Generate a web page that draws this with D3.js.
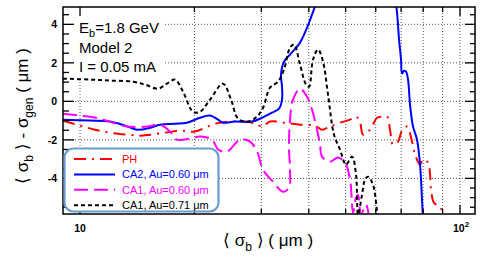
<!DOCTYPE html>
<html>
<head>
<meta charset="utf-8">
<script src="https://cdn.jsdelivr.net/npm/d3@7"></script>
<style>
  body { margin: 0; background: #fff; }
  svg { display: block; font-family: 'Liberation Sans', Arial, sans-serif; }
</style>
</head>
<body>
<div id="chart"></div>
<script>
// <sigma_b> (um) on x, <sigma_b> - sigma_gen (um) on y
const phX = [9.02, 10, 10.95, 11.99, 13.3, 14.38, 15.29, 16.74, 18.33, 20.07, 21.33, 22.66, 24.81, 27.18, 28.88, 30.13, 31.62, 34.63, 37.93, 41.53, 43.33, 45.49, 48.32, 51.35, 53.25, 54.56, 55.56, 57.27, 58.66, 60.47, 62.71, 64.25, 65.43, 66.64, 68.69, 70.37, 72.54, 74.77, 76.14, 78.48, 79.91, 82.38, 83.39, 83.9, 85.43, 88.62, 90.26]
const phY = [-1.0, -1.26, -1.47, -1.63, -1.73, -1.78, -1.73, -1.63, -1.52, -1.57, -1.37, -1.16, -1.05, -1.05, -1.16, -1.31, -1.05, -1.11, -1.21, -1.26, -1.47, -1.31, -1.11, -0.95, -0.79, -1.11, -1.73, -1.57, -1.31, -0.85, -0.79, -0.79, -1.47, -2.25, -2.09, -1.52, -1.31, -2.09, -2.76, -3.28, -3.02, -3.18, -3.8, -4.59, -5.27, -5.47, -5.88]

const ca2X = [9.02, 10.62, 11.99, 13.14, 14.13, 15.29, 16.24, 17.78, 19.12, 20.7, 21.99, 23.08, 23.78, 25.58, 28.36, 30.13, 32.01, 33.39, 34.01, 34.01, 33.8, 34.42, 35.7, 37.93, 39.57, 40.78, 41.78, 42.81, 66.24, 67.87, 69.11, 69.94, 70.37, 71.23, 72.1, 72.98, 73.87, 75.22, 77.06, 78.48, 79.43, 79.91]
const ca2Y = [-0.95, -1.0, -1.05, -1.26, -1.47, -1.37, -1.21, -1.16, -1.11, -0.85, -0.74, -0.95, -1.11, -1.05, -1.05, -0.85, -0.59, -0.38, 0.09, 0.76, 1.39, 2.06, 2.43, 3.05, 3.83, 4.5, 5.08, 5.8, 5.8, 5.02, 3.21, 2.17, 1.44, 1.59, 1.54, 1.13, -0.17, -1.31, -1.99, -3.28, -5.11, -6.15]

const ca1aX = [9.02, 10, 11.29, 12.22, 13.3, 15.01, 16.24, 17.25, 18.0, 19.83, 20.7, 22.26, 23.08, 24.37, 26.37, 28.02, 29.24, 30.32, 32.2, 34.21, 35.48, 35.7, 35.48, 35.7, 36.35, 37.93, 39.57, 40.78, 42.04, 42.81, 43.33, 45.49, 47.74, 49.81, 51.35, 52.3, 53.25, 53.9, 54.89, 56.57, 57.61]
const ca1aY = [-0.64, -0.74, -0.9, -1.11, -1.31, -1.31, -1.21, -1.57, -1.99, -1.89, -1.83, -1.99, -2.5, -2.61, -1.99, -2.09, -2.61, -3.55, -4.17, -4.69, -4.48, -3.55, -2.5, -0.95, 0.09, 0.66, 0.24, -0.43, -1.47, -2.25, -2.87, -3.13, -2.92, -3.18, -4.06, -5.78, -5.0, -4.85, -5.88, -5.37, -6.04]

const ca1bX = [9.02, 10.62, 11.99, 13.79, 14.83, 16.04, 16.94, 17.78, 18.67, 19.83, 20.7, 21.99, 23.78, 24.97, 26.05, 27.68, 29.24, 30.32, 31.62, 33.19, 34.42, 35.7, 36.58, 37.93, 39.33, 40.05, 41.03, 42.3, 43.6, 44.94, 46.6, 48.32, 50.12, 51.98, 53.25, 53.9, 55.22, 56.23, 57.27, 59.02, 60.47, 60.84]
const ca1bY = [1.18, 1.13, 1.08, 1.02, 0.87, 0.66, 0.92, 1.13, 0.5, -0.54, -0.54, 0.09, 0.92, 0.09, -0.9, -1.05, -0.79, -0.33, 0.71, 1.02, 1.65, 2.79, 2.95, 1.91, 0.87, 0.76, 2.17, 2.69, 2.06, 0.35, -1.73, -2.5, -3.28, -2.87, -3.8, -5.88, -4.85, -4.06, -3.91, -4.33, -5.73, -6.25]

const seriesNames = ['PH', 'CA2, Au=0.60 μm', 'CA1, Au=0.60 μm', 'CA1, Au=0.71 μm']
const yMajor = [-4, -2, 0, 2, 4]
const xMajor = [10, 100]
const xMinor = [20, 30, 40, 50, 60, 70, 80, 90]
const infoLines = ['Model 2', 'I = 0.05 mA']

const W = 485
const H = 259
const margin = { top: 7, right: 10, bottom: 45, left: 63 }

const styles = [
  { color: '#ff0000', dash: '12,6,2,6' },
  { color: '#0000ff', dash: null },
  { color: '#ff00ff', dash: '14,6' },
  { color: '#000000', dash: '4,3' }
]

const series = [
  phX.map((x, i) => [x, phY[i]]),
  ca2X.map((x, i) => [x, ca2Y[i]]),
  ca1aX.map((x, i) => [x, ca1aY[i]]),
  ca1bX.map((x, i) => [x, ca1bY[i]])
]

const svg = d3.select('#chart')
  .append('svg')
  .attr('width', W)
  .attr('height', H)

const x = d3.scaleLog()
  .domain([9.02, 109.5])
  .range([margin.left, W - margin.right])

const y = d3.scaleLinear()
  .domain([-5.85, 4.9])
  .range([H - margin.bottom, margin.top])

const x0 = x.range()[0], x1 = x.range()[1]
const y0 = y.range()[0], y1 = y.range()[1]

svg.append('clipPath')
  .attr('id', 'plot-clip')
  .append('rect')
  .attr('x', x0)
  .attr('y', y1)
  .attr('width', x1 - x0)
  .attr('height', y0 - y1)

// grid
const grid = svg.append('g')
  .attr('stroke', '#555')
  .attr('stroke-width', 1)
  .attr('stroke-dasharray', '1,2')

grid.selectAll('.vgrid')
  .data(xMajor.concat(xMinor).filter(d => d < 105))
  .enter()
  .append('line')
  .attr('x1', d => x(d))
  .attr('x2', d => x(d))
  .attr('y1', y1)
  .attr('y2', y0)

grid.selectAll('.hgrid')
  .data(yMajor)
  .enter()
  .append('line')
  .attr('x1', x0)
  .attr('x2', x1)
  .attr('y1', d => y(d))
  .attr('y2', d => y(d))

// info box (white fill hides the grid behind it)
svg.append('rect')
  .attr('x', x0 + 1)
  .attr('y', y1 + 1)
  .attr('width', 101)
  .attr('height', 69)
  .attr('fill', '#fff')

const info = svg.append('g')
  .attr('font-size', '15px')
  .attr('fill', '#000')

const eb = info.append('text')
  .attr('x', 79)
  .attr('y', 33)
eb.append('tspan').text('E')
eb.append('tspan').attr('font-size', '11px').attr('dy', 4).text('b')
eb.append('tspan').attr('dy', -4).text('=1.8 GeV')

info.selectAll('.line')
  .data(infoLines)
  .enter()
  .append('text')
  .attr('x', 79)
  .attr('y', (d, i) => 53 + i * 19)
  .text(d => d)

// curves
const line = d3.line()
  .x(d => x(d[0]))
  .y(d => y(d[1]))
  .curve(d3.curveCatmullRom.alpha(0.5))

svg.append('g')
  .attr('clip-path', 'url(#plot-clip)')
  .selectAll('path')
  .data(series)
  .enter()
  .append('path')
  .attr('d', line)
  .attr('fill', 'none')
  .attr('stroke', (d, i) => styles[i].color)
  .attr('stroke-width', 2)
  .attr('stroke-dasharray', (d, i) => styles[i].dash)

// frame and ticks
const axis = svg.append('g')
  .attr('stroke', '#000')

axis.append('rect')
  .attr('x', x0)
  .attr('y', y1)
  .attr('width', x1 - x0)
  .attr('height', y0 - y1)
  .attr('fill', 'none')
  .attr('stroke-width', 1.5)

const yTicks = d3.range(-5.5, 4.9, 0.5)
const isMajorY = d => Math.abs(d % 2) < 1e-6

axis.selectAll('.ytl')
  .data(yTicks)
  .enter()
  .append('line')
  .attr('x1', x0)
  .attr('x2', d => x0 + (isMajorY(d) ? 11 : 6))
  .attr('y1', d => y(d))
  .attr('y2', d => y(d))
  .attr('stroke-width', 1.3)

axis.selectAll('.ytr')
  .data(yTicks)
  .enter()
  .append('line')
  .attr('x1', x1)
  .attr('x2', d => x1 - (isMajorY(d) ? 10 : 5))
  .attr('y1', d => y(d))
  .attr('y2', d => y(d))
  .attr('stroke-width', 1.3)

const xTicks = xMajor.concat(xMinor)

axis.selectAll('.xtb')
  .data(xTicks)
  .enter()
  .append('line')
  .attr('x1', d => x(d))
  .attr('x2', d => x(d))
  .attr('y1', y0)
  .attr('y2', d => y0 - (xMajor.includes(d) ? 9 : 5))
  .attr('stroke-width', 1.3)

axis.selectAll('.xtt')
  .data(xTicks)
  .enter()
  .append('line')
  .attr('x1', d => x(d))
  .attr('x2', d => x(d))
  .attr('y1', y1)
  .attr('y2', d => y1 + (xMajor.includes(d) ? 9 : 5))
  .attr('stroke-width', 1.3)

// tick labels
svg.selectAll('.ylab')
  .data(yMajor)
  .enter()
  .append('text')
  .attr('x', 57)
  .attr('y', d => y(d) + 4)
  .attr('text-anchor', 'end')
  .attr('font-size', '10.5px')
  .attr('font-weight', 'bold')
  .text(d => d)

svg.append('text')
  .attr('x', x(10))
  .attr('y', 232)
  .attr('text-anchor', 'middle')
  .attr('font-size', '10.5px')
  .attr('font-weight', 'bold')
  .text('10')

const hundred = svg.append('text')
  .attr('x', x(100) - 7)
  .attr('y', 232)
  .attr('font-size', '10.5px')
  .attr('font-weight', 'bold')
hundred.append('tspan').text('10')
hundred.append('tspan').attr('font-size', '8px').attr('dy', -5).text('2')

// axis titles
const xTitle = svg.append('text')
  .attr('x', 223)
  .attr('y', 246)
  .attr('font-size', '17px')
xTitle.append('tspan').text('⟨ σ')
xTitle.append('tspan').attr('font-size', '12px').attr('dy', 5).text('b')
xTitle.append('tspan').attr('dy', -5).text(' ⟩ ( μm )')

const yTitle = svg.append('text')
  .attr('transform', 'translate(28,116) rotate(-90)')
  .attr('text-anchor', 'middle')
  .attr('font-size', '17px')
yTitle.append('tspan').text('⟨ σ')
yTitle.append('tspan').attr('font-size', '12px').attr('dy', 5).text('b')
yTitle.append('tspan').attr('dy', -5).text(' ⟩ - σ')
yTitle.append('tspan').attr('font-size', '12px').attr('dy', 5).text('gen')
yTitle.append('tspan').attr('dy', -5).text(' ( μm )')

// legend
const legend = svg.append('g')

legend.append('rect')
  .attr('x', 64.5)
  .attr('y', 148.5)
  .attr('width', 154)
  .attr('height', 63)
  .attr('rx', 9)
  .attr('fill', '#fff')
  .attr('stroke', '#6b9bd1')
  .attr('stroke-width', 2.2)

const entry = legend.selectAll('.entry')
  .data(seriesNames)
  .enter()
  .append('g')
  .attr('transform', (d, i) => `translate(0,${159 + i * 15.4})`)

entry.append('line')
  .attr('x1', 74)
  .attr('x2', 115)
  .attr('stroke', (d, i) => styles[i].color)
  .attr('stroke-width', 2)
  .attr('stroke-dasharray', (d, i) => styles[i].dash)

entry.append('text')
  .attr('x', 122)
  .attr('y', 4)
  .attr('font-size', '11px')
  .attr('fill', (d, i) => styles[i].color)
  .text(d => d)
</script>
</body>
</html>
